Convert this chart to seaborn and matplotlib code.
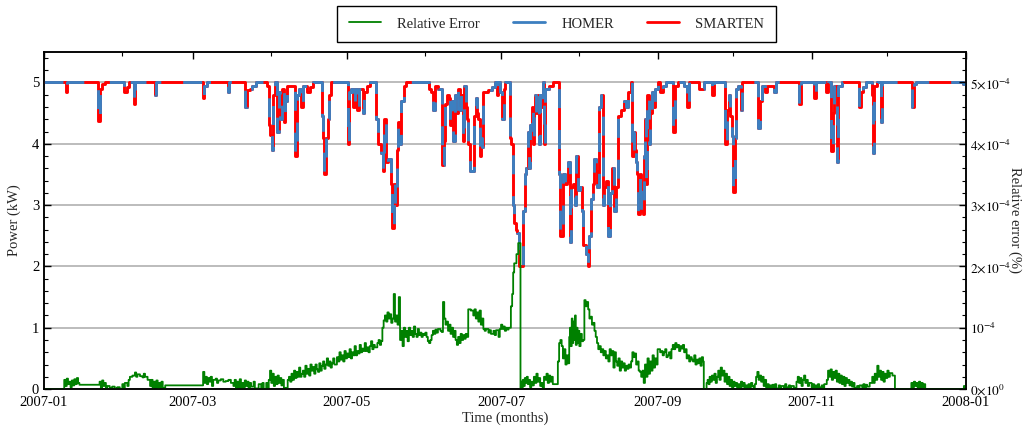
import pandas as pd
import matplotlib
matplotlib.use('Agg')
import matplotlib.pyplot as plt
import matplotlib.dates as mdates
from matplotlib.ticker import MultipleLocator, FuncFormatter
from matplotlib.lines import Line2D
import seaborn as sns

# (day of 2007, kW) step points
homer_steps = [
    (0, 5.0),
    (8.6, 4.84), (9.2, 5.0),
    (21.2, 4.6), (21.5, 4.37), (22.0, 4.9), (23.0, 4.97), (24, 5.0),
    (31.6, 4.85), (33.0, 4.92), (33.6, 5.0),
    (35.6, 4.65), (36.2, 5.0),
    (43.8, 4.8), (44.4, 5.0),
    (62.8, 4.75), (63.4, 4.95), (64.5, 5.0),
    (72.8, 4.84), (73.4, 5.0),
    (79.6, 4.6), (80.2, 4.88), (81.5, 4.9), (82.5, 4.95), (84, 5.0),
    (88.5, 4.95), (89.2, 4.3), (89.6, 4.15), (90.3, 3.9), (90.8, 4.8), (91.6, 5.0),
    (92.4, 4.2), (93.0, 4.85), (93.6, 4.4), (94.2, 4.9), (95.0, 4.35), (95.6, 4.7), (96.2, 4.95),
    (99.2, 3.8), (100.0, 4.8), (100.8, 4.9), (101.8, 4.6), (102.4, 4.95), (104, 4.85),
    (105.5, 4.92), (106.5, 5.0),
    (110.0, 4.45), (110.6, 4.1), (111.0, 3.5), (111.6, 4.1), (112.3, 4.4), (113.0, 4.8), (113.8, 5.0),
    (120.2, 4.0), (120.8, 4.85), (121.6, 4.9), (122.4, 4.6), (123.2, 4.9), (123.8, 4.55),
    (124.6, 4.9), (126.2, 4.5), (126.9, 4.85), (127.8, 4.95), (129, 5.0),
    (131.6, 4.4), (132.4, 4.0), (133.4, 3.85), (134.2, 3.55), (134.8, 4.4), (135.4, 3.7),
    (136.4, 3.75), (137.4, 3.35), (137.9, 2.63), (138.5, 3.35), (139.1, 3.0), (139.6, 3.9),
    (140.2, 4.35), (140.8, 4.0), (141.5, 4.7), (142.5, 4.95), (143.5, 5.0),
    (152.3, 4.9), (153.2, 4.85), (154.0, 4.55), (154.8, 4.95), (156.0, 4.9), (157.6, 3.65),
    (158.4, 4.05), (158.9, 4.65), (159.5, 4.8), (160.2, 4.75), (160.8, 4.3), (161.4, 4.7),
    (162.0, 4.05), (162.6, 4.8), (163.2, 4.5), (163.8, 4.9), (164.6, 4.55), (165.2, 4.8),
    (165.8, 4.05), (166.4, 4.95), (167.0, 4.6), (167.5, 4.4), (168.0, 4.0), (168.8, 3.55),
    (170.4, 4.45), (170.9, 4.75), (171.4, 4.5), (171.9, 4.4), (172.6, 3.8), (173.0, 4.1),
    (173.4, 3.95), (174.0, 4.85), (176, 4.88), (177.5, 4.92), (178.5, 5.0), (179.3, 4.8),
    (179.8, 5.0), (180.4, 4.85), (181.2, 4.4), (182.0, 4.9), (182.6, 5.0),
    (184.4, 4.1), (185.0, 4.0), (185.6, 3.0), (186.2, 2.7), (186.8, 2.6), (187.5, 2.55),
    (188.3, 2.0), (189.5, 2.9), (190.4, 3.5), (191.0, 3.6), (191.5, 4.2), (192.0, 3.6),
    (192.6, 4.3), (193.2, 4.6), (193.7, 4.0), (194.1, 4.55), (194.6, 4.8), (195.0, 4.5),
    (195.5, 4.8), (196.0, 4.0), (196.6, 4.8), (197.1, 4.6), (197.6, 5.0), (198.2, 4.0),
    (198.6, 4.9), (200, 4.95), (201.5, 5.0),
    (203.8, 3.5), (204.4, 2.5), (205.6, 3.5), (206.4, 3.35), (207.2, 3.4), (207.7, 3.7),
    (208.3, 2.4), (208.9, 3.3), (209.6, 3.35), (210.2, 3.0), (210.8, 3.8), (211.4, 3.25),
    (212.3, 3.3), (213.0, 2.9), (213.6, 2.35), (214.5, 2.2), (215.3, 2.0), (216.0, 2.5),
    (216.7, 3.1), (217.3, 3.35), (217.9, 3.75), (218.6, 3.55), (219.2, 3.3), (219.8, 4.6),
    (220.4, 4.8), (221.2, 3.0), (221.8, 3.3), (222.6, 3.4), (223.5, 2.5), (224.2, 3.2),
    (225.0, 3.6), (225.8, 2.9), (226.4, 3.3), (227.2, 4.45), (228.5, 4.55), (229.5, 4.7),
    (230.5, 4.6), (231.3, 4.85), (232.3, 5.0),
    (232.9, 3.8), (233.6, 4.2), (234.0, 3.9), (234.5, 3.7), (235.0, 3.5), (235.4, 2.85),
    (236.0, 3.5), (236.5, 2.9), (237.3, 2.85), (237.8, 3.8), (238.2, 4.4), (238.6, 3.35),
    (239.0, 4.8), (239.5, 4.0), (240.0, 4.5), (240.6, 4.85), (241.2, 4.6), (241.8, 4.9),
    (243, 5.0), (244, 4.85), (245, 4.95), (246.5, 5.0),
    (249.2, 4.2), (249.8, 4.95), (251.0, 5.0), (253.5, 4.95), (254.8, 4.6), (255.4, 5.0),
    (259.5, 4.9), (261.5, 5.0), (264.5, 4.8), (265.2, 5.0),
    (269.8, 4.0), (270.4, 4.55), (271.2, 4.8), (271.8, 4.45), (272.3, 4.13), (272.9, 3.22),
    (273.6, 4.1), (274.2, 4.9), (275.0, 4.95), (276.0, 4.55), (276.6, 5.0),
    (282.8, 4.25), (283.6, 4.7), (284.4, 4.95), (285.5, 4.85), (286.3, 4.95), (289.2, 4.85),
    (289.8, 5.0),
    (299.1, 4.65), (299.7, 5.0), (305.0, 4.75), (305.6, 5.0),
    (309.7, 4.85), (310.6, 5.0), (311.6, 3.88), (312.3, 4.5), (313.0, 4.95), (313.9, 3.7),
    (314.6, 4.95), (316.0, 5.0),
    (322.8, 4.6), (323.4, 4.85), (324.5, 4.92), (325.5, 5.0),
    (327.8, 4.8), (328.2, 3.85), (328.9, 4.95), (330.0, 5.0), (331.3, 4.35), (331.9, 5.0),
    (343.8, 4.6), (344.4, 4.97), (345.5, 5.0),
    (363.8, 4.97), (365, 4.97),
]
# SMARTEN matches HOMER to within the plotted line width
smarten_steps = homer_steps

# (day of 2007, relative error in units of 1e-4 %)
rel_err_steps = [
    (0, 0.0), (8, 0.15), (8.5, 0.05), (9, 0.17), (9.5, 0.08), (10, 0.12), (10.5, 0.03),
    (11, 0.14), (11.5, 0.06), (12, 0.16), (12.5, 0.08), (13, 0.18), (13.5, 0.1),
    (14, 0.07), (22, 0.12), (22.5, 0.02), (23, 0.14), (23.5, 0.05), (24, 0.1), (24.5, 0.0),
    (25, 0.05), (26, 0.02), (27, 0.04), (28, 0.01), (29, 0.03), (30, 0.0),
    (31, 0.08), (31.5, 0.02), (32, 0.1), (33, 0.05), (33.5, 0.15),
    (34, 0.2), (35, 0.22), (36, 0.27), (36.5, 0.2), (37, 0.24), (38, 0.21), (39, 0.19),
    (39.5, 0.25), (40, 0.2), (41, 0.15),
    (42, 0.05), (42.5, 0.15), (43, 0.02), (43.5, 0.12), (44, 0.03), (44.5, 0.14), (45, 0.0),
    (45.5, 0.1), (46, 0.03), (46.5, 0.12), (47, 0.02),
    (48, 0.06),
    (63, 0.28), (63.5, 0.1), (64, 0.2), (64.5, 0.08), (65, 0.18), (65.5, 0.12), (66, 0.2),
    (66.5, 0.05), (67, 0.15), (68, 0.17), (68.5, 0.1), (69, 0.14), (70, 0.16), (71, 0.12),
    (72, 0.13), (73, 0.15), (74, 0.1),
    (75, 0.05), (75.5, 0.15), (76, 0.0), (76.5, 0.12), (77, 0.03), (77.5, 0.16), (78, 0.0),
    (78.5, 0.1), (79, 0.02), (79.5, 0.14), (80, 0.05), (80.5, 0.12), (81, 0.0), (81.5, 0.1),
    (82, 0.04), (83, 0.12), (83.5, 0.01), (85, 0.08), (86, 0.02), (86.5, 0.1), (87, 0.0),
    (88, 0.1), (88.5, 0.02), (89, 0.15), (89.5, 0.3), (90, 0.1), (90.5, 0.25), (91, 0.05),
    (91.5, 0.2), (92, 0.08), (92.5, 0.22), (93, 0.1), (93.5, 0.18), (94, 0.06), (94.5, 0.15),
    (95, 0.02), (96, 0.0),
    (96.5, 0.15), (97, 0.2), (97.5, 0.12), (98, 0.25), (98.5, 0.15), (99, 0.3), (99.5, 0.18),
    (100, 0.28), (100.5, 0.2), (101, 0.35), (101.5, 0.2), (102, 0.25), (102.5, 0.3),
    (103, 0.2), (103.5, 0.38), (104, 0.25), (104.5, 0.33), (105, 0.22), (105.5, 0.4),
    (106, 0.3), (106.5, 0.36), (107, 0.25), (107.5, 0.4), (108, 0.32), (108.5, 0.28),
    (109, 0.42), (109.5, 0.3), (110, 0.38), (110.5, 0.45), (111, 0.33), (111.5, 0.4),
    (112, 0.5), (112.5, 0.38), (113, 0.45), (113.5, 0.35), (114, 0.42), (114.5, 0.5), (115, 0.4),
    (116, 0.52), (116.5, 0.45), (117, 0.6), (117.5, 0.48), (118, 0.55), (118.5, 0.45),
    (119, 0.62), (119.5, 0.5), (120, 0.58), (120.5, 0.52), (121, 0.65), (121.5, 0.5),
    (122, 0.6), (122.5, 0.55), (123, 0.7), (123.5, 0.55), (124, 0.62), (124.5, 0.58),
    (125, 0.72), (125.5, 0.6), (126, 0.66), (126.5, 0.62), (127, 0.75), (127.5, 0.62),
    (128, 0.68), (128.5, 0.6), (129, 0.7), (129.5, 0.78), (130, 0.65), (130.5, 0.72),
    (131, 0.68), (132, 0.75), (132.5, 0.8), (133, 0.72), (133.5, 0.78),
    (134, 1.0), (134.5, 1.12), (135, 1.2), (135.5, 1.1), (136, 1.25), (136.5, 1.15),
    (137, 1.22), (137.5, 1.08), (138, 1.15), (138.5, 1.55), (139, 1.1), (139.5, 1.2),
    (140, 1.05), (140.5, 1.5), (141, 0.8), (141.5, 0.95), (142, 0.7), (142.5, 1.0),
    (143, 0.85), (143.5, 0.95), (144, 0.78), (144.5, 1.0), (145, 0.88), (145.5, 0.95),
    (146, 0.85), (146.5, 1.02), (147, 0.9), (147.5, 0.85), (148, 0.98), (148.5, 0.88),
    (149, 0.92), (149.5, 0.85), (150, 0.9), (150.5, 0.88), (151, 0.92), (151.5, 0.85),
    (152, 0.78), (152.5, 0.75), (153, 0.8), (153.5, 0.88), (154, 0.95), (154.5, 0.9),
    (155, 0.97), (155.5, 0.92), (156, 0.98), (157, 0.95), (157.5, 0.93),
    (158, 1.42), (158.5, 1.15), (159, 1.05), (159.5, 1.1), (160, 0.95), (160.5, 1.05),
    (161, 0.9), (161.5, 1.0), (162, 0.85), (162.5, 0.95), (163, 0.8), (163.5, 0.72),
    (164, 0.85), (164.5, 0.75), (165, 0.9), (165.5, 0.8), (166, 0.88), (166.5, 0.82),
    (167, 0.9), (167.5, 0.85),
    (168, 1.3), (169, 1.28), (170, 1.2), (170.5, 1.3), (171, 1.15), (171.5, 1.25),
    (172, 1.1), (172.5, 1.28), (173, 1.05), (173.5, 1.15), (174, 0.98), (174.5, 0.95),
    (175, 0.98), (176, 0.92), (176.5, 0.96), (177, 0.9), (178, 0.95), (178.5, 0.88),
    (179, 0.96), (180, 0.85), (180.5, 0.98),
    (181, 1.05), (181.5, 0.98), (182, 1.02), (182.5, 0.95), (183, 1.0), (183.5, 0.97), (184, 1.0),
    (184.9, 1.35), (185.4, 1.55), (185.8, 1.9), (186.2, 2.05), (187.1, 2.2), (187.8, 2.38),
    (188.7, 0.0),
    (188.9, 0.12), (189.3, 0.02), (189.6, 0.15), (190, 0.05), (190.4, 0.18), (190.8, 0.1),
    (191.2, 0.2), (191.6, 0.08), (192, 0.15), (192.5, 0.03), (193, 0.12), (193.5, 0.06),
    (194, 0.2), (194.5, 0.1), (195, 0.25), (195.5, 0.12), (196, 0.18), (196.5, 0.05),
    (197, 0.1), (197.5, 0.0),
    (198, 0.2), (198.5, 0.15), (199, 0.25), (199.5, 0.1), (200, 0.22), (200.5, 0.12),
    (201, 0.2), (201.5, 0.08),
    (203.5, 0.45), (204, 0.75), (204.5, 0.8), (205, 0.7), (205.5, 0.5), (206, 0.65),
    (206.5, 0.4), (207, 0.55), (207.5, 0.42),
    (208, 0.85), (208.3, 1.0), (208.6, 0.7), (209, 1.15), (209.3, 0.75), (209.6, 1.1),
    (210, 0.8), (210.3, 1.2), (210.6, 0.72), (211, 1.0), (211.3, 0.75), (211.6, 0.95),
    (212, 0.7), (212.5, 0.9), (213, 0.78), (213.5, 0.8),
    (214, 1.45), (214.5, 1.35), (215, 1.42), (215.5, 1.3), (216, 1.15), (216.5, 1.18),
    (217, 1.05), (217.5, 1.08), (218, 0.95), (218.5, 0.85),
    (219, 0.75), (219.5, 0.65), (220, 0.7), (220.5, 0.6), (221, 0.65), (221.5, 0.55),
    (222, 0.62), (222.5, 0.5), (223, 0.55), (223.5, 0.45),
    (224, 0.65), (224.5, 0.55), (225, 0.62), (225.5, 0.35), (226, 0.6), (226.5, 0.45),
    (227, 0.38), (227.5, 0.5), (228, 0.3), (228.5, 0.45), (229, 0.35), (229.5, 0.42),
    (230, 0.3), (230.5, 0.38), (231, 0.33), (231.5, 0.4), (232, 0.35), (232.5, 0.45),
    (233, 0.6), (233.5, 0.52), (234, 0.58), (234.5, 0.4), (235, 0.45), (235.5, 0.3),
    (236, 0.28), (236.5, 0.2),
    (237, 0.3), (237.5, 0.1), (238, 0.4), (238.5, 0.2), (239, 0.5), (239.5, 0.25),
    (240, 0.45), (240.5, 0.3), (241, 0.55), (241.5, 0.35), (242, 0.5), (242.5, 0.4),
    (243, 0.65), (244, 0.6), (244.5, 0.62), (245, 0.55), (245.5, 0.6), (246, 0.65),
    (246.5, 0.52), (247, 0.55), (247.5, 0.6), (248, 0.5), (248.5, 0.65),
    (249, 0.72), (249.5, 0.65), (250, 0.75), (250.5, 0.68), (251, 0.72), (251.5, 0.62),
    (252, 0.7), (252.5, 0.66), (253, 0.72), (253.5, 0.6), (254, 0.65),
    (254.5, 0.5), (255, 0.55), (255.5, 0.45), (256, 0.52), (256.5, 0.48), (257, 0.45),
    (257.5, 0.55), (258, 0.4), (258.5, 0.48), (259, 0.42), (259.5, 0.5), (260, 0.38),
    (260.5, 0.52), (261, 0.45),
    (261.3, 0.0), (262.4, 0.1),
    (262.8, 0.15), (263.2, 0.08), (263.6, 0.2), (264, 0.12), (264.5, 0.22), (265, 0.15),
    (265.5, 0.25), (266, 0.1), (266.5, 0.2), (267, 0.3), (267.5, 0.15), (268, 0.35),
    (268.5, 0.22), (269, 0.3), (269.5, 0.12), (270, 0.25), (270.5, 0.08), (271, 0.2),
    (271.5, 0.05), (272, 0.15), (272.5, 0.02),
    (273, 0.12), (273.5, 0.05), (274, 0.1), (274.5, 0.0), (275, 0.08), (275.5, 0.02),
    (276, 0.12), (276.5, 0.04), (277, 0.1), (277.5, 0.0), (278, 0.06), (278.5, 0.02),
    (279, 0.08), (279.5, 0.03), (280, 0.1), (280.5, 0.05), (281, 0.0), (281.5, 0.08),
    (282, 0.2), (282.5, 0.28), (283, 0.15), (283.5, 0.22), (284, 0.12), (284.5, 0.2),
    (285, 0.05), (285.5, 0.15), (286, 0.02),
    (286.5, 0.08), (287, 0.02), (287.5, 0.06), (288, 0.0), (288.5, 0.07), (289, 0.03),
    (289.5, 0.08), (290, 0.01), (291, 0.06), (291.5, 0.0), (292, 0.05), (293, 0.02),
    (293.5, 0.08), (294, 0.03), (295, 0.06), (295.5, 0.01), (296, 0.05), (297, 0.02),
    (298, 0.12), (298.5, 0.2), (299, 0.1), (299.5, 0.18), (300, 0.05), (300.5, 0.15),
    (301, 0.22), (301.5, 0.1), (302, 0.15), (302.5, 0.05), (303, 0.1),
    (304, 0.03), (304.5, 0.08), (305, 0.0), (305.5, 0.06), (306, 0.02), (306.5, 0.08),
    (307, 0.03), (308, 0.06), (308.5, 0.01), (309, 0.08),
    (310, 0.15), (310.5, 0.3), (311, 0.2), (311.5, 0.32), (312, 0.15), (312.5, 0.28),
    (313, 0.18), (313.5, 0.3), (314, 0.12), (314.5, 0.25), (315, 0.1), (315.5, 0.22),
    (316, 0.08), (316.5, 0.2), (317, 0.05), (317.5, 0.18), (318, 0.1), (318.5, 0.15),
    (319, 0.06), (319.5, 0.12), (320, 0.04), (320.5, 0.1), (321, 0.02),
    (322, 0.05), (322.5, 0.02), (323, 0.06), (324, 0.03), (324.5, 0.08), (325, 0.02),
    (325.5, 0.07), (326, 0.04), (327, 0.1),
    (328, 0.2), (328.5, 0.1), (329, 0.25), (329.5, 0.15), (330, 0.38), (330.5, 0.2),
    (331, 0.3), (331.5, 0.15), (332, 0.28), (332.5, 0.12), (333, 0.25), (333.5, 0.18),
    (334, 0.3), (334.5, 0.2), (335, 0.26), (336, 0.22),
    (337, 0.0), (343.5, 0.1), (344, 0.02), (344.5, 0.12), (345, 0.05), (345.5, 0.1),
    (346, 0.0), (346.5, 0.12), (347, 0.03), (347.5, 0.1), (348, 0.02), (348.5, 0.08),
    (349, 0.0), (364.3, 0.05), (364.7, 0.02), (365, 0.02),
]

series_labels = ['Relative Error', 'HOMER', 'SMARTEN']
series_colors = ['#008000', '#3c7fc0', '#ff0000']

start = pd.Timestamp('2007-01-01')


def to_frame(steps):
    d = pd.DataFrame(steps, columns=['day', 'value'])
    d['time'] = start + pd.to_timedelta(d['day'], unit='D')
    return d


homer = to_frame(homer_steps)
smarten = to_frame(smarten_steps)
rel_err = to_frame(rel_err_steps)
rel_err['value'] = rel_err['value'] * 1e-4

sns.set_style('white')
plt.rcParams['font.family'] = ['Liberation Serif', 'DejaVu Serif']
plt.rcParams['mathtext.fontset'] = 'stix'
plt.rcParams['font.size'] = 10.5

fig, ax = plt.subplots(figsize=(10.24, 4.28), dpi=100)
fig.subplots_adjust(left=0.043, right=0.943, bottom=0.091, top=0.879)

sns.lineplot(data=smarten, x='time', y='value', ax=ax, color=series_colors[2],
             lw=2.1, drawstyle='steps-post', errorbar=None, zorder=3)
sns.lineplot(data=homer, x='time', y='value', ax=ax, color=series_colors[1],
             lw=2.1, drawstyle='steps-post', errorbar=None, zorder=4,
             linestyle=(0, (6.5, 7.5)))

ax.set_ylim(0, 5.5)
ax.set_xlim(start, pd.Timestamp('2008-01-01'))
ax.yaxis.set_major_locator(MultipleLocator(1))
ax.yaxis.set_minor_locator(MultipleLocator(0.2))
ax.xaxis.set_major_locator(mdates.MonthLocator(bymonth=[1, 3, 5, 7, 9, 11]))
ax.xaxis.set_minor_locator(mdates.MonthLocator())
ax.xaxis.set_major_formatter(mdates.DateFormatter('%Y-%m'))
ax.yaxis.grid(True, which='major', color='#b0b0b0', lw=1.2)
ax.set_axisbelow(True)
ax.set_ylabel('Power (kW)', labelpad=8)
ax.tick_params(axis='both', which='both', direction='in', top=True, colors='black')
ax.tick_params(which='major', length=5, width=1)
ax.tick_params(which='minor', length=3, width=0.8)
ax.tick_params(axis='x', pad=5)

ax2 = ax.twinx()
sns.lineplot(data=rel_err, x='time', y='value', ax=ax2, color=series_colors[0],
             lw=1.3, drawstyle='steps-post', errorbar=None)
ax2.set_ylim(0, 5.5e-4)
ax2.yaxis.set_major_locator(MultipleLocator(1e-4))
ax2.yaxis.set_minor_locator(MultipleLocator(0.2e-4))


def err_fmt(v, pos):
    m = int(round(v / 1e-4))
    if m == 0:
        return r'$0{\times}10^{0}$'
    if m == 1:
        return r'$10^{-4}$'
    return r'${%d}{\times}10^{-4}$' % m


ax2.yaxis.set_major_formatter(FuncFormatter(err_fmt))
ax2.set_ylabel('')
ax2.set_xlabel('')
ax2.tick_params(axis='y', which='both', direction='in', colors='black', labelsize=9.5, pad=3)
ax2.tick_params(which='major', length=5, width=1)
ax2.tick_params(which='minor', length=3, width=0.8)
ax.set_xlabel('Time (months)', labelpad=2)
fig.text(1015 / 1024, 1 - 220 / 428, 'Relative error (%)', rotation=270,
         ha='center', va='center', fontsize=10.5)

for a in (ax, ax2):
    for s in a.spines.values():
        s.set_color('black')
        s.set_linewidth(1.1)

handles = [Line2D([], [], color=c, lw=2 if i else 1.3) for i, c in enumerate(series_colors)]
fig.legend(handles, series_labels, loc='center', bbox_to_anchor=(556.5 / 1024, 1 - 24 / 428),
           ncol=3, frameon=True, fancybox=False, edgecolor='black', framealpha=1,
           handlelength=2.2, handletextpad=1.1, columnspacing=2.3, borderpad=0.8)

fig.savefig('out.png', dpi=100)
